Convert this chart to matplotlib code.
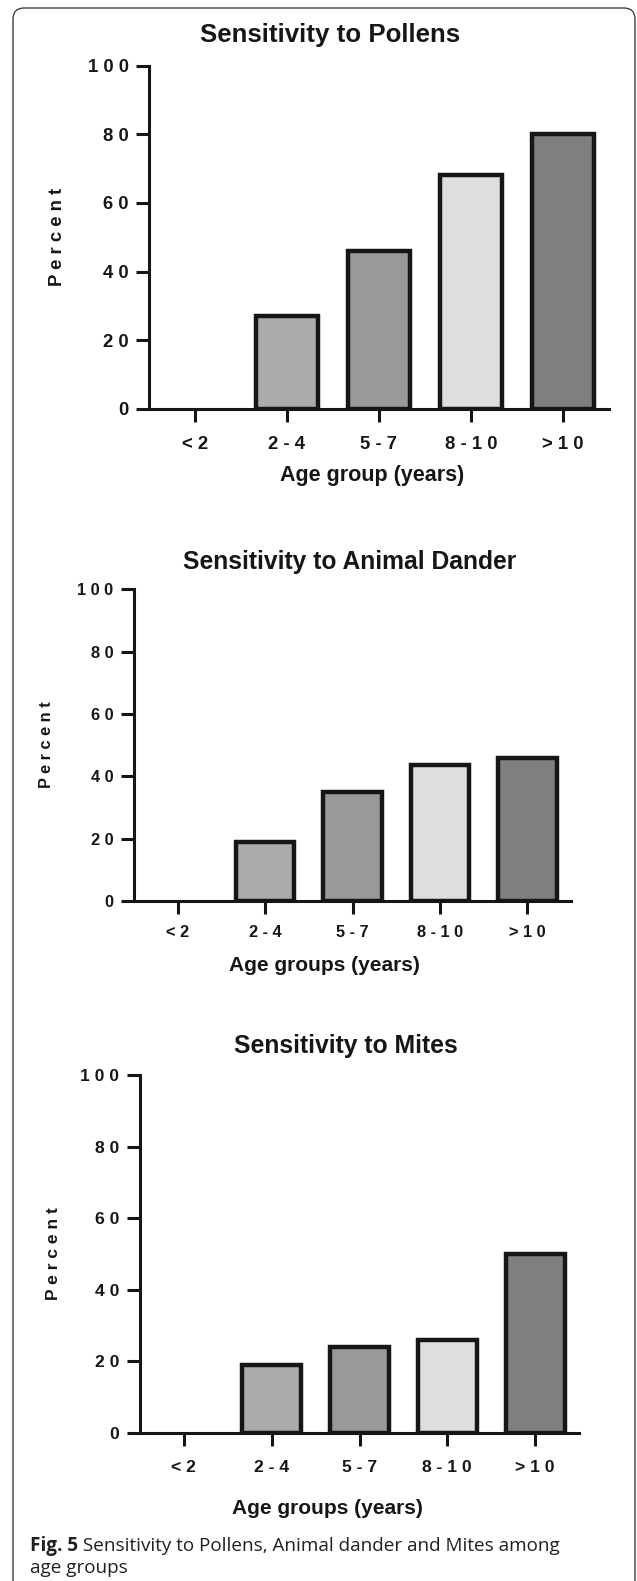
import matplotlib
matplotlib.use("Agg")
import matplotlib.pyplot as plt
from matplotlib.patches import FancyBboxPatch
from matplotlib.transforms import IdentityTransform

# ---- data ----
categories = ["< 2", "2 - 4", "5 - 7", "8 - 1 0", "> 1 0"]
pollens = [0, 27, 46, 68, 80]
dander = [0, 19, 35, 43.5, 46]
mites = [0, 19, 24, 26, 50]
yticks = [0, 20, 40, 60, 80, 100]
ytick_labels = ["0", "2 0", "4 0", "6 0", "8 0", "1 0 0"]
titles = ["Sensitivity to Pollens", "Sensitivity to Animal Dander", "Sensitivity to Mites"]
xlabels = ["Age group (years)", "Age groups (years)", "Age groups (years)"]
ylabel = "P e r c e n t"
bar_colors = ["#cccccc", "#aaabaa", "#999999", "#dedede", "#7f7f7f"]
caption_bold = "Fig. 5"
caption_rest = " Sensitivity to Pollens, Animal dander and Mites among"
caption_line2 = "age groups"

W, H = 637, 1581
DARK = "#161616"
fig = plt.figure(figsize=(W / 100, H / 100), dpi=100)
fig.patch.set_facecolor("white")

# rounded frame around the figure
frame = FancyBboxPatch((13, -30), 622, H - 8 + 30,
                       boxstyle="round,pad=0,rounding_size=11",
                       transform=IdentityTransform(), fill=False,
                       edgecolor="#2a2a2a", linewidth=0.9)
fig.patches.append(frame)

FONT = "Liberation Sans"

# panel geometry in pixels (left, right, y of 0, y of 100) and text settings
panels = [
    dict(vals=pollens, l=149, r=609, y0=408.7, y100=65.7, tick=13.3, xpad=10.3, ypad=5.4,
         ylx=57, xlx=372.5, xly=481.5, xls=15.5, tx=330.5, ty=42.3, ts=18.6),
    dict(vals=dander, l=134, r=571, y0=901, y100=589.3, tick=11.8, xpad=8.0, ypad=5.8,
         ylx=46.7, xlx=324, xly=971, xls=15, tx=350, ty=568.5, ts=17.7),
    dict(vals=mites, l=140, r=579, y0=1433, y100=1075, tick=12.6, xpad=10.4, ypad=5.8,
         ylx=53.3, xlx=327.6, xly=1514, xls=15, tx=346, ty=1052.5, ts=17.8),
]

for i, p in enumerate(panels):
    ax = fig.add_axes([p["l"] / W, 1 - p["y0"] / H, (p["r"] - p["l"]) / W,
                       (p["y0"] - p["y100"]) / H])
    x = range(len(categories))
    bars = ax.bar(x, p["vals"], width=0.67, color=bar_colors, edgecolor=DARK,
                  linewidth=3.2, zorder=2)
    for b, v in zip(bars, p["vals"]):
        if v == 0:
            b.set_visible(False)
    ax.set_xlim(-0.5, len(categories) - 0.5)
    ax.set_ylim(0, 100)
    for s in ("top", "right"):
        ax.spines[s].set_visible(False)
    for s in ("left", "bottom"):
        ax.spines[s].set_linewidth(2.2)
        ax.spines[s].set_color(DARK)
        ax.spines[s].set_zorder(3)
    ax.set_xticks(list(x))
    ax.set_xticklabels(categories, fontfamily=FONT, fontweight="bold",
                       fontsize=p["tick"], color=DARK)
    ax.set_yticks(yticks)
    ax.set_yticklabels(ytick_labels, fontfamily=FONT, fontweight="bold",
                       fontsize=p["tick"], color=DARK)
    ax.tick_params(axis="x", length=9.2, width=2.2, color=DARK, pad=p["xpad"])
    ax.tick_params(axis="y", length=9.2, width=2.2, color=DARK, pad=p["ypad"])
    ax.set_facecolor("none")

    ax.set_ylabel(ylabel, fontfamily=FONT, fontweight="bold", fontsize=p["tick"],
                  color=DARK, va="center")
    ax.yaxis.set_label_coords((p["ylx"] - p["l"]) / (p["r"] - p["l"]), 0.5)

    fig.text(p["xlx"] / W, 1 - p["xly"] / H, xlabels[i], fontfamily=FONT,
             fontweight="bold", fontsize=p["xls"], color=DARK,
             ha="center", va="baseline")
    fig.text(p["tx"] / W, 1 - p["ty"] / H, titles[i], fontfamily=FONT,
             fontweight="bold", fontsize=p["ts"], color=DARK,
             ha="center", va="baseline")

# caption
CAP = "Open Sans"
cap_color = "#231f20"
CAPSIZE = 13.6
t1 = fig.text(30 / W, 1 - 1551 / H, caption_bold, fontfamily=CAP, fontweight="bold",
              fontsize=CAPSIZE, color=cap_color, ha="left", va="baseline")
renderer = fig.canvas.get_renderer()
bb = t1.get_window_extent(renderer=renderer)
fig.text(bb.x1 / W, 1 - 1551 / H, caption_rest, fontfamily=CAP,
         fontsize=CAPSIZE, color=cap_color, ha="left", va="baseline")
fig.text(30 / W, 1 - 1573 / H, caption_line2, fontfamily=CAP,
         fontsize=CAPSIZE, color=cap_color, ha="left", va="baseline")

fig.savefig("out.png", dpi=100, facecolor="white")
